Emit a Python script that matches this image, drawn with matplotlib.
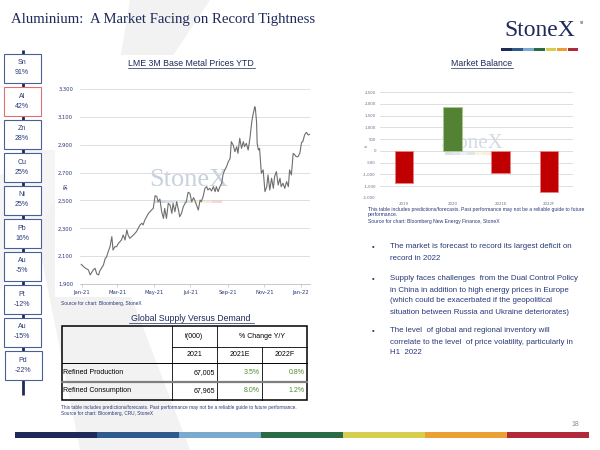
import matplotlib
matplotlib.use("Agg")
import numpy as np
import pandas as pd
from matplotlib import pyplot as plt
from matplotlib.patches import Rectangle, Polygon
import matplotlib.dates as mdates

# ---- data ----
metals = ["Sn", "Al", "Zn", "Cu", "Ni", "Pb", "Au", "Pt", "Au", "Pd"]
metal_pct = ["91%", "42%", "28%", "25%", "25%", "16%", "-5%", "-12%", "-15%", "-22%"]

price_dates = ["2020-12-31", "2021-01-06", "2021-01-12", "2021-01-15", "2021-01-20", "2021-01-23",
               "2021-01-26", "2021-01-29", "2021-01-31", "2021-02-06", "2021-02-09", "2021-02-11",
               "2021-02-14", "2021-02-17", "2021-02-20", "2021-02-22", "2021-02-25", "2021-02-28",
               "2021-03-03", "2021-03-08", "2021-03-11", "2021-03-14", "2021-03-17", "2021-03-19",
               "2021-03-22", "2021-03-28", "2021-04-02", "2021-04-08", "2021-04-11", "2021-04-13",
               "2021-04-16", "2021-04-22", "2021-04-27", "2021-04-30", "2021-05-03", "2021-05-06",
               "2021-05-08", "2021-05-11", "2021-05-14", "2021-05-17", "2021-05-19", "2021-05-22",
               "2021-05-25", "2021-05-28", "2021-05-31", "2021-06-02", "2021-06-05", "2021-06-08",
               "2021-06-11", "2021-06-13", "2021-06-16", "2021-06-19", "2021-06-22", "2021-06-24",
               "2021-06-27", "2021-06-30", "2021-07-03", "2021-07-06", "2021-07-08", "2021-07-11",
               "2021-07-14", "2021-07-17", "2021-07-19", "2021-07-22", "2021-07-25", "2021-07-28",
               "2021-07-30", "2021-08-02", "2021-08-05", "2021-08-08", "2021-08-11", "2021-08-13",
               "2021-08-16", "2021-08-19", "2021-08-22", "2021-08-24", "2021-08-27", "2021-08-30",
               "2021-09-02", "2021-09-05", "2021-09-07", "2021-09-10", "2021-09-13", "2021-09-16",
               "2021-09-18", "2021-09-21", "2021-09-24", "2021-09-27", "2021-09-29", "2021-10-02",
               "2021-10-05", "2021-10-08", "2021-10-11", "2021-10-13", "2021-10-16", "2021-10-17",
               "2021-10-19", "2021-10-20", "2021-10-22", "2021-10-24", "2021-10-27", "2021-10-30",
               "2021-11-02", "2021-11-05", "2021-11-07", "2021-11-10", "2021-11-13", "2021-11-16",
               "2021-11-18", "2021-11-21", "2021-11-24", "2021-11-27", "2021-11-29", "2021-12-02",
               "2021-12-05", "2021-12-08", "2021-12-11", "2021-12-13", "2021-12-16", "2021-12-19",
               "2021-12-22", "2021-12-24", "2021-12-27", "2021-12-30", "2022-01-02", "2022-01-04",
               "2022-01-07", "2022-01-10", "2022-01-13", "2022-01-16"]
prices = [2041, 2017, 2001, 1965, 2001, 2013, 1972, 1965, 1994, 2036, 2084, 2092,
          2132, 2168, 2240, 2144, 2168, 2168, 2192, 2216, 2252, 2216, 2288, 2252,
          2228, 2252, 2276, 2324, 2336, 2324, 2360, 2407, 2431, 2443, 2534, 2527,
          2491, 2510, 2419, 2371, 2443, 2371, 2479, 2467, 2407, 2479, 2419, 2491,
          2431, 2383, 2407, 2455, 2479, 2491, 2558, 2551, 2491, 2520, 2503, 2467,
          2431, 2503, 2491, 2527, 2587, 2599, 2575, 2587, 2568, 2599, 2563, 2599,
          2563, 2599, 2623, 2683, 2719, 2742, 2778, 2802, 2922, 2898, 2850, 2886,
          2838, 2946, 2874, 2922, 2886, 2910, 2862, 2946, 3065, 3113, 3173, 3161,
          3065, 2910, 2862, 2874, 2695, 2719, 2563, 2599, 2683, 2575, 2659, 2587,
          2671, 2707, 2611, 2659, 2599, 2623, 2587, 2635, 2599, 2719, 2683, 2838,
          2826, 2814, 2814, 2838, 2917, 2922, 2970, 2989, 2970, 2975]

bal_years = ["2019", "2020", "2021E", "2022F"]
bal_values = [-1350, 1850, -950, -1750]

tbl_rows = ["Refined Production", "Refined Consumption"]
tbl_2021 = ["67,005", "67,965"]
tbl_2021e = ["3.5%", "8.0%"]
tbl_2022f = ["0.8%", "1.2%"]

bullets = [
    ["The market is forecast to record its largest deficit on", "record in 2022"],
    ["Supply faces challenges  from the Dual Control Policy",
     "in China in addition to high energy prices in Europe",
     "(which could be exacerbated if the geopolitical",
     "situation between Russia and Ukraine deteriorates)"],
    ["The level  of global and regional inventory will",
     "correlate to the level  of price volatility, particularly in",
     "H1  2022"],
]

NAVY = "#1f2a5a"
TXT = "#2a3878"
logo_cols = ["#1e2a5a", "#2f5a8c", "#7aaace", "#2a6b47", "#d7cd4e", "#eaa032", "#b0283a"]
SANS = "Liberation Sans"
NARROW = ["Liberation Sans Narrow", "Liberation Sans"]
SERIF = "Liberation Serif"

W, H = 600, 450


def box(x0, y0, x1, y1):
    return [x0 / W, 1 - y1 / H, (x1 - x0) / W, (y1 - y0) / H]


fig = plt.figure(figsize=(6, 4.5), dpi=100)
bg = fig.add_axes([0, 0, 1, 1])
bg.set_xlim(0, W)
bg.set_ylim(H, 0)
bg.axis("off")

# faint X decoration
bg.add_patch(Polygon([(130, 0), (210, 0), (150, 90), (115, 90)], color="#f2f2f2", lw=0))
bg.add_patch(Polygon([(20, 150), (75, 150), (190, 450), (80, 450)], color="#f2f2f2", lw=0))
bg.add_patch(Polygon([(0, 175), (55, 150), (55, 200), (0, 290)], color="#f5f5f5", lw=0))
bg.add_patch(Rectangle((55, 55), 267, 242, color="white", lw=0))

# title + logo
bg.text(11, 20, "Aluminium:  A Market Facing on Record Tightness", family=SERIF, fontsize=10.6,
        color=NAVY, va="center", ha="left")
bg.text(540, 31, "StoneX", family=SERIF, fontsize=17, color=NAVY, va="center", ha="center")
bg.text(580, 23, "TM", family=SANS, fontsize=2, color=NAVY, va="center")
seg = (579 - 501) / 7
for i, c in enumerate(logo_cols):
    bg.add_patch(Rectangle((501 + i * seg, 47.5), seg - 0.6, 3, color=c, lw=0))

# left metal ladder
bg.plot([22.5, 22.5], [50, 395], color=NAVY, lw=2, solid_capstyle="butt", zorder=2)
for i, (m, p) in enumerate(zip(metals, metal_pct)):
    top = 54 + 33 * i
    x0 = 5 if i == 9 else 4
    ec = "#e07070" if m == "Al" else "#4a5f96"
    bg.add_patch(Rectangle((x0, top), 36.5, 29, facecolor="white", edgecolor=ec, lw=0.8, zorder=3))
    bg.text(x0 + 18, top + 9, m, family=SANS, fontsize=5, color=TXT, ha="center", va="center", zorder=4)
    bg.text(x0 + 18, top + 19, p, family=SANS, fontsize=5, color=TXT, ha="center", va="center", zorder=4)

# watermark for line chart
bg.text(189, 180, "StoneX", family=SERIF, fontsize=19, color="#c8d1de", ha="center", va="center")
seg_w = (222 - 155) / 7
for i, c in enumerate(logo_cols):
    bg.add_patch(Rectangle((155 + i * seg_w, 200), seg_w, 3, color=c, alpha=0.18, lw=0))

# watermark for bar chart
bg.text(472, 143, "StoneX", family=SERIF, fontsize=15, color="#d5dbe4", ha="center", va="center")
seg_w = (497 - 445) / 7
for i, c in enumerate(logo_cols):
    bg.add_patch(Rectangle((445 + i * seg_w, 152), seg_w, 2.5, color=c, alpha=0.15, lw=0))

# ---- line chart ----
bg.text(191, 63, "LME 3M Base Metal Prices YTD", family=SANS, fontsize=6.3, color=NAVY,
        ha="center", va="center")
bg.plot([128, 255], [67.5, 67.5], color=NAVY, lw=0.5)
ax = fig.add_axes(box(80, 89, 310, 284))
ax.set_facecolor("none")
ax.plot(pd.to_datetime(price_dates), prices, color="#6e6e6e", lw=0.8)
ax.set_ylim(1900, 3300)
ax.set_xlim(pd.Timestamp("2020-12-29"), pd.Timestamp("2022-01-16"))
ax.set_yticks(range(1900, 3301, 200))
ax.set_yticklabels([f"{v:,}" for v in range(1900, 3301, 200)])
ax.xaxis.set_major_locator(mdates.MonthLocator(bymonth=[1, 3, 5, 7, 9, 11]))
ax.xaxis.set_major_formatter(mdates.DateFormatter("%b-%y"))
ax.grid(axis="y", color="#d9d9d9", lw=0.6)
ax.set_axisbelow(True)
for s in ["top", "right", "left"]:
    ax.spines[s].set_visible(False)
ax.spines["bottom"].set_color("#bfbfbf")
ax.spines["bottom"].set_linewidth(0.6)
ax.tick_params(axis="y", length=0, labelsize=3.8, labelcolor=TXT, pad=5)
ax.tick_params(axis="x", length=2, width=0.5, color="#bfbfbf", labelsize=3.8, labelcolor=TXT, pad=2)
bg.text(66, 186, "$/t", family=SANS, fontsize=3.8, color=TXT, rotation=90, ha="center", va="center")
bg.text(61, 304, "Source for chart: Bloomberg, StoneX", family=SANS, fontsize=3.5, color=TXT, va="center")

# ---- table ----
bg.text(191, 318.5, "Global Supply Versus Demand", family=SANS, fontsize=6.3, color=NAVY,
        ha="center", va="center")
bg.plot([129, 254], [323, 323], color=NAVY, lw=0.5)
bg.add_patch(Rectangle((62, 326), 245, 74, facecolor="none", edgecolor="black", lw=1.1))
for xv, y0 in [(172, 326), (217, 326), (262, 347)]:
    bg.plot([xv, xv], [y0, 400], color="black", lw=0.6)
bg.plot([172, 307], [347, 347], color="black", lw=0.6)
bg.plot([62, 307], [363, 363], color="black", lw=0.7)
bg.plot([62, 307], [382, 382], color="#7f7f7f", lw=1.6)
tk = dict(family=NARROW, fontsize=5, color="black", va="center")
bg.text(194.5, 336.5, "t(000)", ha="center", **tk)
bg.text(262, 336.5, "% Change Y/Y", ha="center", **tk)
bg.text(194.5, 355, "2021", ha="center", **tk)
bg.text(239.5, 355, "2021E", ha="center", **tk)
bg.text(284.5, 355, "2022F", ha="center", **tk)
for r, yv in enumerate([372.5, 391]):
    bg.text(63, yv, tbl_rows[r], ha="left", **tk)
    bg.text(215, yv, tbl_2021[r], ha="right", **tk)
    bg.text(260, yv, tbl_2021e[r], ha="right", family=NARROW, fontsize=5, color="#4f8a2e", va="center")
    bg.text(305, yv, tbl_2022f[r], ha="right", family=NARROW, fontsize=5, color="#4f8a2e", va="center")
bg.text(61, 408, "This table includes predictions/forecasts. Past performance may not be a reliable guide to future performance.",
        family=SANS, fontsize=3.4, color=TXT, va="center")
bg.text(61, 414, "Source for chart: Bloomberg, CRU, StoneX", family=SANS, fontsize=3.4, color=TXT, va="center")

# ---- bar chart ----
bg.text(482, 63, "Market Balance", family=SANS, fontsize=6.3, color=NAVY, ha="center", va="center")
bg.plot([451, 513], [67.5, 67.5], color=NAVY, lw=0.5)
bx = fig.add_axes(box(380, 92, 573, 198))
bx.set_facecolor("none")
cols = ["#c00000" if v < 0 else "#548235" for v in bal_values]
edges = ["#e88080" if v < 0 else "#a9c98f" for v in bal_values]
bx.bar(range(len(bal_years)), bal_values, width=0.38, color=cols, edgecolor=edges, lw=0.7, zorder=3)
bx.set_ylim(-2000, 2500)
bx.set_xlim(-0.5, 3.5)
bx.set_yticks(range(-2000, 2501, 500))
bx.set_yticklabels([f"{v:,}" for v in range(-2000, 2501, 500)])
bx.set_xticks(range(len(bal_years)))
bx.set_xticklabels(bal_years)
bx.grid(axis="y", color="#d9d9d9", lw=0.6)
bx.set_axisbelow(True)
for s in ["top", "right", "left", "bottom"]:
    bx.spines[s].set_visible(False)
bx.tick_params(axis="both", length=0, labelsize=2.8, labelcolor="#6a6f8a", pad=3)
bg.text(367, 145, "kt", family=SANS, fontsize=3, color="#6a6f8a", rotation=90, ha="center", va="center")
bg.text(368, 209, "This table includes predictions/forecasts. Past performance may not be a reliable guide to future",
        family=SANS, fontsize=3.6, color=TXT, va="center")
bg.text(368, 214.5, "performance.", family=SANS, fontsize=3.6, color=TXT, va="center")
bg.text(368, 221, "Source for chart: Bloomberg New Energy Finance, StoneX", family=SANS, fontsize=3.6,
        color=TXT, va="center")

# ---- bullets ----
para_y = [247, 279, 331]
for para, y0 in zip(bullets, para_y):
    bg.text(372, y0, "\u2022", family=SANS, fontsize=5.7, color=TXT, va="center")
    for j, line in enumerate(para):
        bg.text(390, y0 + 11 * j, line, family=SANS, fontsize=5.7, color=TXT, va="center")

# ---- footer ----
bg.text(575, 425, "18", family=SANS, fontsize=5, color="#8c8c8c", ha="center", va="center")
seg = (589 - 15) / 7
for i, c in enumerate(logo_cols):
    bg.add_patch(Rectangle((15 + i * seg, 432), seg, 6, color=c, lw=0))

fig.savefig("out.png", dpi=100)
